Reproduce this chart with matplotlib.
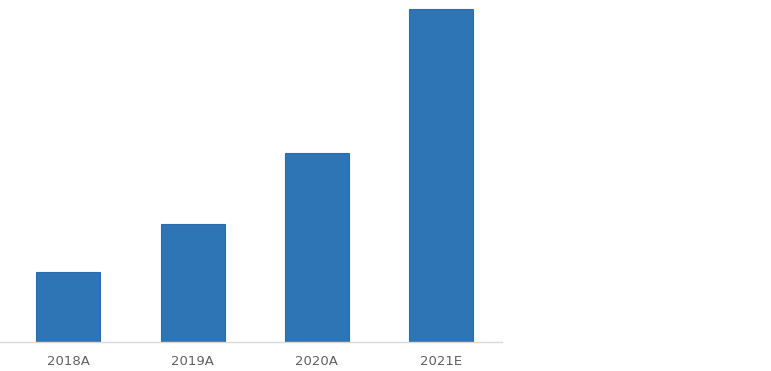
import matplotlib
matplotlib.use("Agg")
import matplotlib.pyplot as plt

# data
years = ["2018A", "2019A", "2020A", "2021E"]
values = [70, 118, 189, 333]

fig = plt.figure(figsize=(7.71, 3.71), dpi=100)
ax = fig.add_axes([0.0, 0.078, 0.651, 0.922])

x = range(len(years))
ax.bar(x, values, width=0.516, color="#2E75B6", edgecolor="#2A6DAA", linewidth=0.8)

ax.set_xlim(-0.55, 3.49)
ax.set_ylim(0, 342)

for side in ("left", "right", "top"):
    ax.spines[side].set_visible(False)
ax.spines["bottom"].set_color("#D9D9D9")
ax.spines["bottom"].set_linewidth(1.0)

ax.set_yticks([])
ax.set_xticks(list(x))
ax.set_xticklabels(years, fontsize=9.5, color="#606060")
ax.tick_params(axis="x", length=0, pad=9)

fig.savefig("out.png", dpi=100, facecolor="white")
